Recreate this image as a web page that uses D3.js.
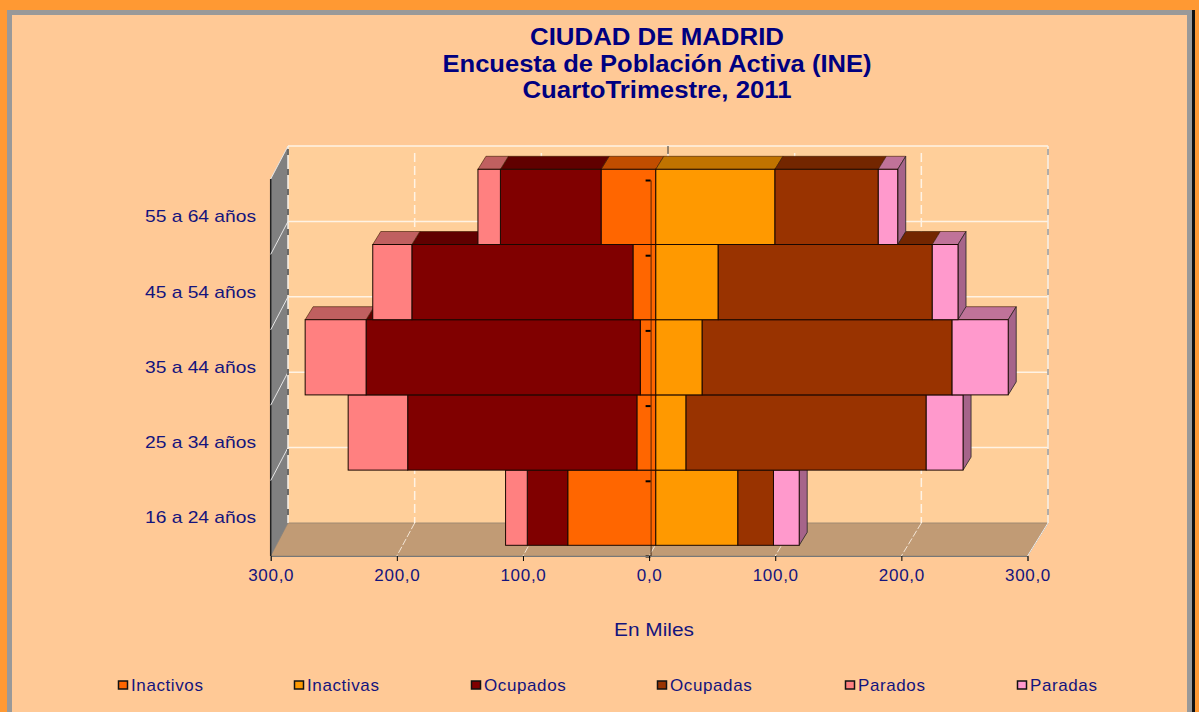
<!DOCTYPE html>
<html>
<head>
<meta charset="utf-8">
<title>Ciudad de Madrid EPA</title>
<script src="https://cdn.jsdelivr.net/npm/d3@7"></script>
<style>
html, body { margin: 0; padding: 0; background: #FFC996; overflow: hidden; }
text { font-family: "Liberation Sans", Arial, sans-serif; fill: #14147D; }
</style>
</head>
<body>
<svg id="chart" width="1199" height="712"></svg>
<script>
// data (thousands of people)
var edades = ["16 a 24 años", "25 a 34 años", "35 a 44 años", "45 a 54 años", "55 a 64 años"];
var inactivos = [69.8, 15.0, 12.3, 18.1, 43.4];
var inactivas = [65.1, 24.0, 36.8, 49.5, 94.5];
var ocupados = [32.1, 181.7, 217.4, 175.3, 79.8];
var ocupadas = [28.2, 190.4, 198.1, 169.7, 81.9];
var parados = [17.2, 47.2, 48.3, 31.0, 17.8];
var paradas = [20.4, 29.2, 44.5, 20.4, 15.4];
var seriesNames = ["Inactivos", "Inactivas", "Ocupados", "Ocupadas", "Parados", "Paradas"];
var seriesValues = [inactivos, inactivas, ocupados, ocupadas, parados, paradas];
var seriesColors = ["#FF6600", "#FF9900", "#800000", "#993300", "#FF8080", "#FF99CC"];
var xTicks = [-300, -200, -100, 0, 100, 200, 300];
var titleLines = ["CIUDAD DE MADRID", "Encuesta de Población Activa (INE)", "CuartoTrimestre, 2011"];
var titleWidths = [254, 429, 269];

// the men go to the left, so every odd-position series is negative
var rows = edades.map(function(e, i){
	var row = {edad: e};
	seriesNames.forEach(function(n, s){
		row[n] = (s % 2 === 0 ? -1 : 1) * seriesValues[s][i];
	});
	return row;
});
var stacked = d3.stack().keys(seriesNames).offset(d3.stackOffsetDiverging)(rows);

var svg = d3.select("#chart");

// frame of the picture
svg.append("rect").attr("width", 1199).attr("height", 712).attr("fill", "#FF9933");
svg.append("rect").attr("x", 7).attr("y", 10).attr("width", 1185).attr("height", 702).attr("fill", "#999999");
svg.append("rect").attr("x", 1192).attr("y", 10).attr("width", 3).attr("height", 702).attr("fill", "#111111");
svg.append("rect").attr("x", 12).attr("y", 15).attr("width", 1175).attr("height", 697).attr("fill", "#FFC996");

// scales
var floorY = 556, wallBottom = 523, wallTop = 146, depthY = floorY - wallBottom;
var barDx = 6.7, barDy = 10.7;    // bars stand a bit inside the floor
var faceDx = 8, faceDy = 13;      // thickness of the bars
var x = d3.scaleLinear().domain([-300, 300]).range([270.7, 1027.5]);
var xBack = d3.scaleLinear().domain([-300, 300]).range([288, 1048]);
var y = d3.scaleBand().domain(edades).range([floorY, 180]);
var line = d3.line();

// walls and floor
svg.append("rect").attr("x", xBack(-300)).attr("y", wallTop)
	.attr("width", xBack(300) - xBack(-300)).attr("height", wallBottom - wallTop)
	.attr("fill", "#FFCF9A");
svg.append("path").attr("fill", "#C19B75").attr("stroke", "#A08A72").attr("stroke-width", 1)
	.attr("d", line([[x(-300), floorY], [x(300), floorY], [xBack(300), wallBottom], [xBack(-300), wallBottom]]) + "Z");
svg.append("path").attr("fill", "#808080")
	.attr("d", line([[x(-300), floorY], [xBack(-300), wallBottom], [xBack(-300), wallTop], [x(-300), wallTop + depthY]]) + "Z");
svg.append("line").attr("x1", x(-300)).attr("x2", x(-300)).attr("y1", wallTop + depthY).attr("y2", floorY)
	.attr("stroke", "#222").attr("stroke-width", 1.5);

// horizontal grid, on the wall and down the left side
var gridLevels = d3.range(0, edades.length + 1);
var gridY = d3.scaleLinear().domain([0, edades.length]).range([wallBottom, wallTop]);
svg.selectAll(".hgrid").data(gridLevels.slice(1)).enter().append("line").attr("class", "hgrid")
	.attr("x1", xBack(-300)).attr("x2", xBack(300))
	.attr("y1", function(d){ return gridY(d); }).attr("y2", function(d){ return gridY(d); })
	.attr("stroke", "#FFF3E4").attr("stroke-width", 1.5);
svg.selectAll(".sgrid").data(gridLevels.slice(1)).enter().append("line").attr("class", "sgrid")
	.attr("x1", xBack(-300)).attr("x2", x(-300))
	.attr("y1", function(d){ return gridY(d); }).attr("y2", function(d){ return gridY(d) + depthY; })
	.attr("stroke", "#E6E6E6").attr("stroke-width", 1);

// vertical grid, dashed on the wall and running over the floor
svg.selectAll(".vgrid").data(xTicks.slice(1, -1)).enter().append("line").attr("class", "vgrid")
	.attr("x1", function(d){ return xBack(d); }).attr("x2", function(d){ return xBack(d); })
	.attr("y1", wallTop + 7).attr("y2", wallBottom)
	.attr("stroke", "#FFF3E4").attr("stroke-width", 1.5).attr("stroke-dasharray", "9,4");
svg.selectAll(".fgrid").data(xTicks.slice(1, -1)).enter().append("line").attr("class", "fgrid")
	.attr("x1", function(d){ return xBack(d); }).attr("x2", function(d){ return x(d); })
	.attr("y1", wallBottom).attr("y2", floorY)
	.attr("stroke", "#F4E6D6").attr("stroke-width", 1).attr("stroke-dasharray", "7,2");

// wall edges: white line with grey dashes on it
[-300, 300].forEach(function(v){
	svg.append("line").attr("x1", xBack(v)).attr("x2", xBack(v)).attr("y1", wallTop).attr("y2", wallBottom)
		.attr("stroke", "#F4F0EA").attr("stroke-width", 1.5);
	svg.append("line").attr("x1", xBack(v)).attr("x2", xBack(v)).attr("y1", wallTop + 3).attr("y2", wallBottom)
		.attr("stroke", v < 0 ? "#444" : "#999").attr("stroke-width", 1.5).attr("stroke-dasharray", "6,14");
});
svg.append("line").attr("x1", xBack(300)).attr("x2", x(300)).attr("y1", wallBottom).attr("y2", floorY)
	.attr("stroke", "#EFEFEF").attr("stroke-width", 1);
svg.append("line").attr("x1", xBack(0)).attr("x2", xBack(0)).attr("y1", wallTop).attr("y2", wallTop + 8)
	.attr("stroke", "#333").attr("stroke-width", 1);

// bars: the lower ages first, each older group is painted over the top of the one before
edades.forEach(function(edad, i){
	var top = y(edad) - barDy;
	var bottom = top + y.bandwidth();
	var g = svg.append("g").attr("class", "edad");
	stacked.forEach(function(serie, s){
		var x0 = x(serie[i][0]) + barDx, x1 = x(serie[i][1]) + barDx;
		var left = Math.min(x0, x1), right = Math.max(x0, x1);
		// top face
		g.append("path")
			.attr("fill", d3.color(seriesColors[s]).darker(0.8))
			.attr("stroke", "#3a1a00").attr("stroke-width", 0.6)
			.attr("d", line([[left, top], [left + faceDx, top - faceDy], [right + faceDx, top - faceDy], [right, top]]) + "Z");
		// only the last right hand series shows its side
		if(s === seriesNames.length - 1){
			g.append("path")
				.attr("fill", "#A6648A").attr("stroke", "#222").attr("stroke-width", 0.8)
				.attr("d", line([[right, top], [right + faceDx, top - faceDy], [right + faceDx, bottom - faceDy], [right, bottom]]) + "Z");
		}
	});
	stacked.forEach(function(serie, s){
		var x0 = x(serie[i][0]) + barDx, x1 = x(serie[i][1]) + barDx;
		g.append("rect")
			.attr("x", Math.min(x0, x1)).attr("y", top)
			.attr("width", Math.abs(x1 - x0)).attr("height", y.bandwidth())
			.attr("fill", seriesColors[s])
			.attr("stroke", "#1a0800").attr("stroke-width", 1);
	});
});

// category axis sits on zero, on top of the bars
var catAxisScale = d3.scaleLinear().domain([0, edades.length]).range([floorY, 180]);
var catAxis = svg.append("g").attr("transform", "translate(" + (x(0) + 1.5) + ",0)")
	.call(d3.axisLeft(catAxisScale).tickValues(gridLevels).tickSize(5).tickSizeOuter(0).tickFormat(""));
catAxis.selectAll("path").attr("stroke", "#2a1000").attr("stroke-opacity", 0.75);
catAxis.selectAll("line").attr("stroke", "#000").attr("stroke-width", 2);

// value axis
var fmt = function(d){ return d3.format(".1f")(Math.abs(d)).replace(".", ","); };
var xAxis = svg.append("g").attr("transform", "translate(0," + floorY + ")")
	.call(d3.axisBottom(x).tickValues(xTicks).tickSize(5).tickPadding(8).tickFormat(fmt));
xAxis.select(".domain").attr("stroke", "#777").attr("stroke-width", 1);
xAxis.selectAll("line").attr("stroke", "#000");
xAxis.selectAll("text").attr("font-size", 17).attr("fill", "#14147D").attr("letter-spacing", 0.7);

// age labels
var yLabels = svg.append("g").attr("transform", "translate(262,0)")
	.call(d3.axisLeft(y).tickSize(0).tickPadding(6));
yLabels.select(".domain").remove();
yLabels.selectAll("text").attr("font-size", 17).attr("fill", "#14147D").attr("dy", "0.28em")
	.attr("textLength", 111).attr("lengthAdjust", "spacingAndGlyphs");

// titles
var titleY = d3.scalePoint().domain(titleLines).range([45, 98]);
svg.selectAll(".title").data(titleLines).enter().append("text").attr("class", "title")
	.attr("x", 657).attr("y", function(d){ return titleY(d); })
	.attr("text-anchor", "middle").attr("font-size", 23).attr("font-weight", "bold")
	.attr("textLength", function(d, i){ return titleWidths[i]; }).attr("lengthAdjust", "spacingAndGlyphs")
	.style("fill", "#000080").text(function(d){ return d; });

svg.append("text").attr("x", 654).attr("y", 636).attr("text-anchor", "middle")
	.attr("font-size", 19).attr("textLength", 80).attr("lengthAdjust", "spacingAndGlyphs")
	.text("En Miles");

// legend
var legendX = d3.scaleOrdinal().domain(seriesNames).range([118, 294, 471, 657, 845, 1017]);
var legend = svg.selectAll(".legend").data(seriesNames).enter().append("g").attr("class", "legend")
	.attr("transform", function(d){ return "translate(" + legendX(d) + ",685)"; });
legend.append("rect").attr("x", 0.5).attr("y", -4).attr("width", 9).attr("height", 8)
	.attr("fill", function(d, i){ return seriesColors[i]; })
	.attr("stroke", "#111").attr("stroke-width", 1.5);
legend.append("text").attr("x", 13).attr("y", 6).attr("font-size", 17).attr("letter-spacing", 0.6)
	.text(function(d){ return d; });
</script>
</body>
</html>
